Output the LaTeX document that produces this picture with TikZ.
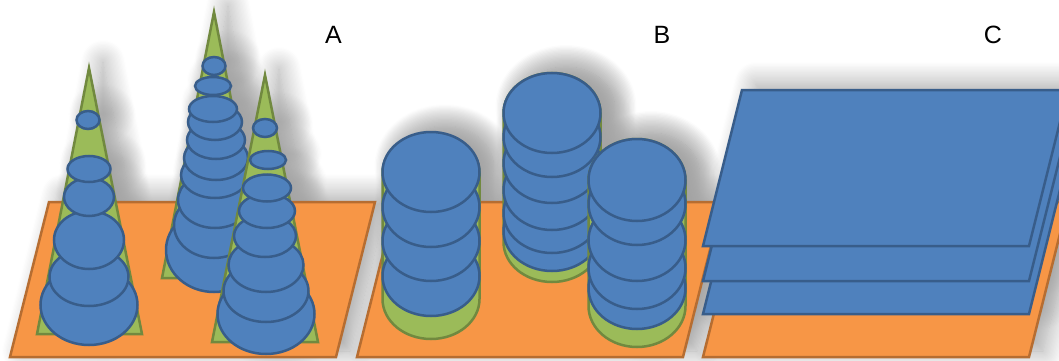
\documentclass[tikz,border=0pt]{standalone}
\usepackage{fontspec}
\setmainfont{Liberation Sans}
\usetikzlibrary{shadows.blur}
\definecolor{orfill}{HTML}{F79646}
\definecolor{orline}{HTML}{B66D31}
\definecolor{blfill}{HTML}{4F81BD}
\definecolor{blline}{HTML}{385D8A}
\definecolor{grfill}{HTML}{9BBB59}
\definecolor{grline}{HTML}{71893F}
\newcommand\mydisc[4]{\path[disc] (#1,#2) ellipse [x radius=#3pt, y radius=#4pt];}
\newcommand\mycyl[5]{\path[cyl] ({#1-#4},#2) -- ({#1-#4},#3) arc[start angle=180, end angle=360, x radius=#4pt, y radius=#5pt] -- ({#1+#4},#2) arc[start angle=0, end angle=180, x radius=#4pt, y radius=#5pt] -- cycle;}
\newcommand\myplate[1]{\path[plate] (#1,357) -- ({#1+326},357) -- ({#1+365},202) -- ({#1+39},202) -- cycle;}
\newcommand\mysheet[1]{\path[sheet] (703,#1) -- (1029,#1) -- (1068,{#1-156}) -- (742,{#1-156}) -- cycle;}
\newcommand\drawscene{%
  \myplate{10}\myplate{357}\myplate{703}%
  \path[cone] (89,68) -- (142,334) -- (37,334) -- cycle;
  \mydisc{89}{305}{48.5}{40}\mydisc{89}{277}{39.5}{29}\mydisc{89}{240}{35}{29}%
  \mydisc{89}{197}{25}{19}\mydisc{89}{169}{21.5}{13}\mydisc{88}{120}{11.5}{9}%
  \path[cone] (214,12) -- (266,278) -- (162,278) -- cycle;
  \mydisc{214}{250}{48}{42}\mydisc{214}{225}{40}{33}\mydisc{215}{200}{37}{28}%
  \mydisc{215}{175}{34}{23}\mydisc{216}{158}{32}{22}\mydisc{216}{140}{29}{19}%
  \mydisc{215}{122}{27}{18}\mydisc{213}{109}{24}{13}\mydisc{213}{86}{18}{9}%
  \mydisc{214}{66}{11.5}{9}%
  \path[cone] (265,75) -- (318,342) -- (212,342) -- cycle;
  \mydisc{266}{314}{48.5}{40}\mydisc{266}{291}{42.5}{31}\mydisc{266}{265}{37.5}{27}%
  \mydisc{265}{236}{31}{21}\mydisc{267}{211}{28}{17}\mydisc{267}{188}{24}{13.5}%
  \mydisc{268}{160}{18}{9}\mydisc{265}{128}{12}{9}%
  \mycyl{431}{173}{299}{48.5}{40}%
  \mydisc{431}{276}{48.5}{40}\mydisc{431}{241}{48.5}{40}\mydisc{431}{207}{48.5}{40}\mydisc{431}{172}{48.5}{40}%
  \mycyl{552}{113}{242}{48.5}{40}%
  \mydisc{552}{231}{48.5}{40}\mydisc{552}{213}{48.5}{40}\mydisc{552}{190}{48.5}{40}%
  \mydisc{552}{163}{48.5}{40}\mydisc{552}{137}{48.5}{40}\mydisc{552}{113}{48.5}{40}%
  \mycyl{637}{180}{306}{48.5}{41}%
  \mydisc{637}{288}{48.5}{41}\mydisc{637}{268}{48.5}{41}\mydisc{637}{240}{48.5}{41}%
  \mydisc{637}{204}{48.5}{41}\mydisc{637}{180}{48.5}{41}%
  \mysheet{314}\mysheet{281}\mysheet{246}%
}
\begin{document}
\begin{tikzpicture}[x=1pt,y=-1pt,
  lab/.style={font=\fontsize{25}{30}\selectfont, text=black, inner sep=0pt}]
\fill[white] (0,0) rectangle (1059,361);
\useasboundingbox (0,0) rectangle (1059,361);
\begin{scope}[transparency group, opacity=0.36,
  shadowonly/.style={draw=none, fill=none,
    blur shadow={shadow xshift=14pt, shadow yshift=6pt, shadow blur radius=22pt,
      shadow blur steps=18, shadow opacity=100}},
  plate/.style={shadowonly}, cone/.style={shadowonly}, disc/.style={shadowonly},
  cyl/.style={shadowonly}, sheet/.style={shadowonly}]
\drawscene
\end{scope}
\begin{scope}[line width=2.5pt, line join=miter,
  plate/.style={fill=orfill, draw=orline},
  cone/.style={fill=grfill, draw=grline},
  disc/.style={fill=blfill, draw=blline},
  cyl/.style={fill=grfill, draw=grline},
  sheet/.style={fill=blfill, draw=blline}]
\drawscene
\end{scope}
\node[lab] (la) at (333.5,35) {A};
\node[lab] (lb) at (662,35) {B};
\node[lab] (lc) at (993,35) {C};
\end{tikzpicture}
\end{document}
